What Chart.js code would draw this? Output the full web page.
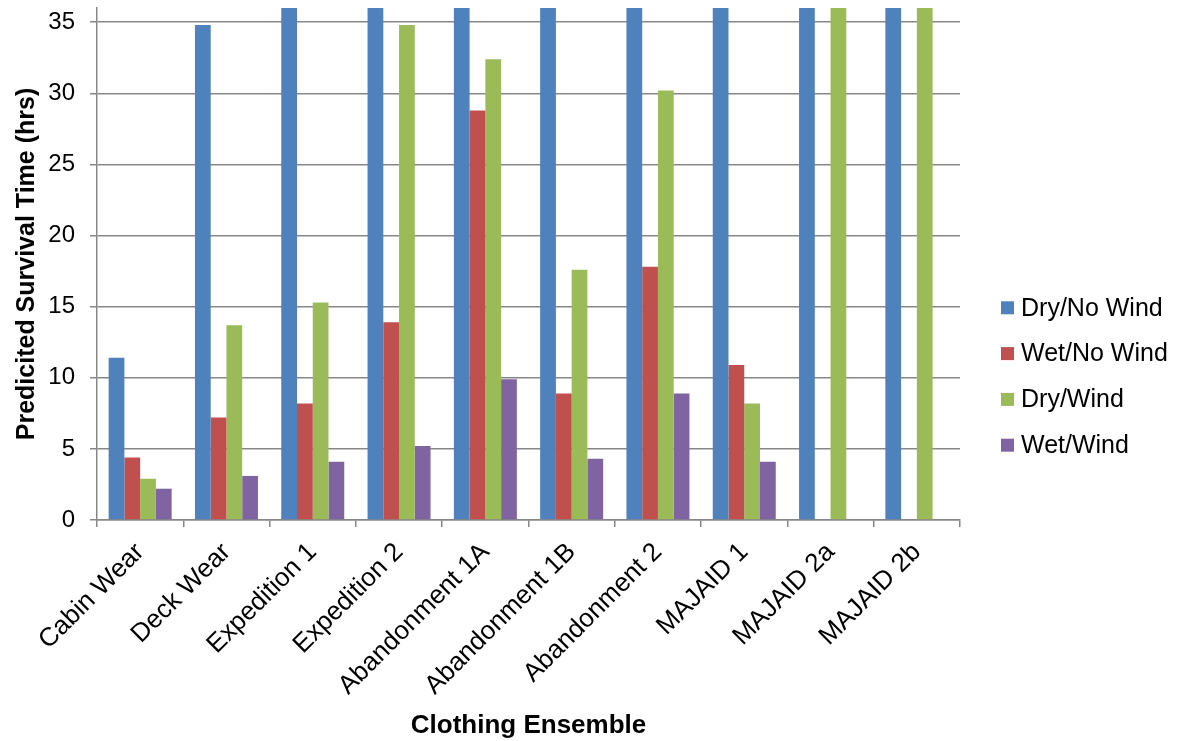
<!DOCTYPE html>
<html>
<head>
<meta charset="utf-8">
<script src="https://cdn.jsdelivr.net/npm/chart.js@4/dist/chart.umd.min.js"></script>
<style>
  html, body { margin: 0; padding: 0; background: #ffffff; }
  #c { display: block; }
</style>
</head>
<body>
<canvas id="c" width="1192" height="741"></canvas>
<script>
// Clothing ensembles on the category axis
const ensembles = ['Cabin Wear', 'Deck Wear', 'Expedition 1', 'Expedition 2', 'Abandonment 1A',
                   'Abandonment 1B', 'Abandonment 2', 'MAJAID 1', 'MAJAID 2a', 'MAJAID 2b'];

// Predicted survival time (hrs) per condition; 36 h is the model ceiling
const dryNoWind = [11.4, 34.8, 36, 36, 36, 36, 36, 36, 36, 36];
const wetNoWind = [4.4, 7.2, 8.2, 13.9, 28.8, 8.9, 17.8, 10.9, null, null];
const dryWind   = [2.9, 13.7, 15.3, 34.8, 32.4, 17.6, 30.2, 8.2, 36, 36];
const wetWind   = [2.2, 3.1, 4.1, 5.2, 9.9, 4.3, 8.9, 4.1, null, null];

const seriesNames  = ['Dry/No Wind', 'Wet/No Wind', 'Dry/Wind', 'Wet/Wind'];
const seriesColors = ['#4F81BD', '#C0504D', '#9BBB59', '#8064A2'];
const yTickValues  = [0, 5, 10, 15, 20, 25, 30, 35];

const FONT = '"Liberation Sans", Arial, sans-serif';
const AXIS_GREY = '#878787';

// Legend drawn to the right of the plot, square swatch + label per series
const sideLegend = {
  id: 'sideLegend',
  afterDraw(chart) {
    const ctx = chart.ctx;
    const sets = chart.data.datasets;
    const rowGap = 45.8;
    const x = chart.chartArea.right + 41;
    const y0 = chart.height / 2 + 6 - rowGap * (sets.length - 1) / 2;
    ctx.save();
    ctx.font = '25px ' + FONT;
    ctx.textBaseline = 'middle';
    ctx.textAlign = 'left';
    sets.forEach((ds, i) => {
      const cy = y0 + i * rowGap;
      ctx.fillStyle = ds.backgroundColor;
      ctx.fillRect(x, cy - 6.5, 13, 13);
      ctx.fillStyle = '#000000';
      ctx.fillText(ds.label, x + 20, cy + 1);
    });
    ctx.restore();
  }
};

const seriesData = [dryNoWind, wetNoWind, dryWind, wetWind];

new Chart(document.getElementById('c'), {
  type: 'bar',
  data: {
    labels: ensembles,
    datasets: seriesData.map((values, i) => ({
      label: seriesNames[i],
      data: values,
      backgroundColor: seriesColors[i],
      borderWidth: 0,
      categoryPercentage: 0.73,
      barPercentage: 1.0
    }))
  },
  options: {
    responsive: false,
    animation: false,
    devicePixelRatio: 1,
    layout: { padding: { left: 0, right: 232, top: 8, bottom: 0 } },
    plugins: {
      legend: { display: false },
      tooltip: { enabled: false }
    },
    scales: {
      x: {
        grid: {
          offset: true,
          drawOnChartArea: false,
          drawTicks: true,
          tickLength: 7,
          color: AXIS_GREY,
          lineWidth: 1.5
        },
        border: { display: true, color: AXIS_GREY, width: 1.5 },
        ticks: {
          autoSkip: false,
          minRotation: 45,
          maxRotation: 45,
          color: '#000000',
          padding: 10,
          font: { family: FONT, size: 26 }
        },
        title: {
          display: true,
          text: 'Clothing Ensemble',
          color: '#000000',
          font: { family: FONT, size: 26, weight: 'bold' },
          padding: { top: 0, bottom: 0 }
        },
        afterFit(scale) { scale.height = 221; }
      },
      y: {
        min: 0,
        max: 36,
        afterBuildTicks(scale) { scale.ticks = yTickValues.map(v => ({ value: v })); },
        grid: {
          color: AXIS_GREY,
          lineWidth: 1.5,
          drawTicks: true,
          tickLength: 7
        },
        border: { display: true, color: AXIS_GREY, width: 1.5 },
        ticks: {
          color: '#000000',
          padding: 15,
          font: { family: FONT, size: 24 }
        },
        title: {
          display: true,
          text: 'Predicited Survival Time (hrs)',
          color: '#000000',
          font: { family: FONT, size: 25, weight: 'bold' },
          padding: { top: 12, bottom: 0 }
        },
        afterFit(scale) {
          scale.width = 97;
          scale.paddingTop = 0;
          scale.paddingBottom = 0;
        }
      }
    }
  },
  plugins: [sideLegend]
});
</script>
</body>
</html>
